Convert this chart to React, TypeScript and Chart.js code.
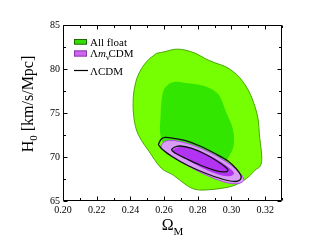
import React, { useEffect, useRef } from 'react';
import { Chart, registerables } from 'chart.js';

Chart.register(...registerables);

// ---- axis ----
const xMin = 0.2;
const xMax = 0.33;
const yMin = 65;
const yMax = 85;
const xStep = 0.02;
const yStep = 5;

// ---- legend ----
const legendNames = ['All float', 'Λm_νCDM', 'ΛCDM'];

// ---- All float, 2σ (outer, light green) ----
const allFloat2Om = [0.2555, 0.2605, 0.2664, 0.2723, 0.279, 0.2842, 0.2902, 0.2961, 0.301, 0.305, 0.31, 0.314, 0.3159, 0.3165, 0.3172, 0.318, 0.3172, 0.314, 0.311, 0.307, 0.3021, 0.2942, 0.2842, 0.2783, 0.2733, 0.2654, 0.2585, 0.2505, 0.2465, 0.2436, 0.242, 0.2416, 0.2422, 0.2446, 0.2496];
const allFloat2H = [81.78, 81.97, 82.24, 82.16, 81.75, 81.2, 80.7, 80.3, 79.7, 79.0, 77.6, 75.7, 74.2, 72.7, 71.5, 70.0, 69.0, 68.5, 67.9, 67.3, 66.8, 66.44, 66.25, 66.33, 66.8, 67.95, 68.7, 70.8, 71.9, 73.07, 74.6, 76.1, 77.6, 79.3, 80.83];

// ---- All float, 1σ (inner, green) ----
const allFloat1Om = [0.263, 0.2665, 0.272, 0.28, 0.2853, 0.29, 0.2932, 0.2971, 0.3, 0.3015, 0.3012, 0.2995, 0.2955, 0.288, 0.278, 0.268, 0.261, 0.2585, 0.2575, 0.2578, 0.2585, 0.26];
const allFloat1H = [78.35, 78.56, 78.45, 78.25, 77.99, 77.5, 76.85, 74.97, 73.7, 72.4, 71.2, 70.4, 69.3, 68.9, 69.3, 70.0, 71.0, 72.0, 73.07, 74.2, 76.48, 77.7];

// ---- ΛmνCDM, 2σ (light purple) ----
const mnu2Om = [0.2581, 0.2599, 0.2634, 0.2694, 0.2783, 0.2872, 0.2961, 0.3033, 0.3068, 0.3071, 0.3039, 0.2979, 0.2884, 0.2783, 0.2694, 0.2622, 0.2587];
const mnu2H = [71.25, 71.7, 71.88, 71.76, 71.25, 70.51, 69.55, 68.52, 67.73, 67.27, 66.99, 67.05, 67.67, 68.58, 69.55, 70.45, 70.91];

// ---- ΛmνCDM, 1σ (purple) ----
const mnu1Om = [0.2646, 0.267, 0.2712, 0.2783, 0.286, 0.2937, 0.2991, 0.3015, 0.2997, 0.2943, 0.286, 0.2771, 0.2694, 0.2658];
const mnu1H = [70.68, 71.02, 71.19, 70.91, 70.28, 69.43, 68.69, 68.18, 67.84, 67.9, 68.47, 69.32, 70.11, 70.45];

// ---- ΛCDM, 2σ (black line) ----
const lcdm2Om = [0.2566, 0.2581, 0.2605, 0.2664, 0.2723, 0.2813, 0.2902, 0.2979, 0.3027, 0.3056, 0.305, 0.3015, 0.2943, 0.2842, 0.2741, 0.2646, 0.2587];
const lcdm2H = [71.4, 71.99, 72.22, 72.1, 71.88, 71.25, 70.4, 69.55, 68.69, 67.9, 67.39, 67.22, 67.5, 68.18, 69.03, 70.06, 70.91];

// ---- ΛCDM, 1σ (black line) ----
const lcdm1Om = [0.2643, 0.2658, 0.2694, 0.2765, 0.2842, 0.2914, 0.2967, 0.2979, 0.2955, 0.2896, 0.2813, 0.2729, 0.267];
const lcdm1H = [70.8, 71.08, 71.25, 70.97, 70.34, 69.55, 68.81, 68.47, 68.3, 68.52, 69.09, 69.83, 70.4];

const SERIF = '"Liberation Serif", "Times New Roman", serif';

function closed(xs: number[], ys: number[]) {
  const pts = xs.map((x, i) => ({ x, y: ys[i] }));
  pts.push({ x: xs[0], y: ys[0] });
  return pts;
}

const decorPlugin = {
  id: 'decor',
  afterDraw(chart: any) {
    const { ctx, chartArea: a, scales } = chart;
    const xs = scales.x;
    const ys = scales.y;
    ctx.save();
    ctx.strokeStyle = '#000';
    ctx.lineWidth = 1;
    const L = Math.round(a.left) + 0.5;
    const R = Math.round(a.right) - 0.5;
    const T = Math.round(a.top) + 0.5;
    const B = Math.round(a.bottom) - 0.5;
    ctx.beginPath();
    ctx.rect(L, T, R - L, B - T);
    ctx.stroke();
    ctx.beginPath();
    for (let i = 0; i <= Math.round((xMax - xMin) / 0.01); i++) {
      const v = xMin + i * 0.01;
      const px = Math.round(xs.getPixelForValue(v)) + 0.5;
      const len = i % 2 === 0 ? 4 : 2.5;
      ctx.moveTo(px, B); ctx.lineTo(px, B - len);
      ctx.moveTo(px, T); ctx.lineTo(px, T + len);
    }
    for (let i = 0; i <= Math.round((yMax - yMin) / 2.5); i++) {
      const v = yMin + i * 2.5;
      const py = Math.round(ys.getPixelForValue(v)) + 0.5;
      const len = i % 2 === 0 ? 4 : 2.5;
      ctx.moveTo(L, py); ctx.lineTo(L + len, py);
      ctx.moveTo(R, py); ctx.lineTo(R - len, py);
    }
    ctx.stroke();

    // axis titles
    ctx.fillStyle = '#000';
    ctx.textBaseline = 'alphabetic';
    ctx.textAlign = 'left';
    const big = `16px ${SERIF}`;
    const sub = `11px ${SERIF}`;
    // x: Ω_M
    ctx.font = big;
    const wO = ctx.measureText('Ω').width;
    ctx.font = sub;
    const wM = ctx.measureText('M').width;
    const cx = (a.left + a.right) / 2;
    const x0 = cx - (wO + wM) / 2;
    ctx.font = big;
    ctx.fillText('Ω', x0, 230);
    ctx.font = sub;
    ctx.fillText('M', x0 + wO, 234.5);

    // y: H_0 [km/s/Mpc]
    ctx.save();
    ctx.translate(33, 104);
    ctx.rotate(-Math.PI / 2);
    ctx.font = big;
    const wH = ctx.measureText('H').width;
    const rest = ' [km/s/Mpc]';
    const wR = ctx.measureText(rest).width;
    ctx.font = sub;
    const w0 = ctx.measureText('0').width;
    const start = -(wH + w0 + wR) / 2;
    ctx.font = big;
    ctx.fillText('H', start, 0);
    ctx.font = sub;
    ctx.fillText('0', start + wH, 4);
    ctx.font = big;
    ctx.fillText(rest, start + wH + w0, 0);
    ctx.restore();

    // legend
    const lf = `11px ${SERIF}`;
    const lfi = `italic 11px ${SERIF}`;
    const lsub = `8px ${SERIF}`;
    const bx = 74;
    const bw = 13;
    const tx = 90;
    // item 1
    ctx.fillStyle = '#33DD00';
    ctx.fillRect(bx, 39, bw, 5.5);
    ctx.strokeStyle = '#1a4d00';
    ctx.lineWidth = 0.8;
    ctx.strokeRect(bx + 0.4, 39.4, bw - 0.8, 4.8);
    ctx.fillStyle = '#000';
    ctx.font = lf;
    ctx.fillText(legendNames[0], tx, 45.5);
    // item 2
    ctx.fillStyle = '#CC66EE';
    ctx.fillRect(bx, 50.5, bw, 6);
    ctx.strokeStyle = '#7a2a99';
    ctx.strokeRect(bx + 0.4, 50.9, bw - 0.8, 5.2);
    ctx.fillStyle = '#000';
    const parts = legendNames[1].split('_');
    let px = tx;
    ctx.font = lf;
    ctx.fillText(parts[0].slice(0, 1), px, 57);
    px += ctx.measureText(parts[0].slice(0, 1)).width;
    ctx.font = lfi;
    ctx.fillText(parts[0].slice(1), px, 57);
    px += ctx.measureText(parts[0].slice(1)).width;
    ctx.font = lsub;
    ctx.fillText(parts[1].slice(0, 1), px, 60);
    px += ctx.measureText(parts[1].slice(0, 1)).width - 1;
    ctx.font = lf;
    ctx.fillText(parts[1].slice(1), px, 57);
    // item 3
    ctx.strokeStyle = '#000';
    ctx.lineWidth = 1.2;
    ctx.beginPath();
    ctx.moveTo(bx, 70.5);
    ctx.lineTo(bx + bw + 1, 70.5);
    ctx.stroke();
    ctx.font = lf;
    ctx.fillText(legendNames[2], tx, 74.5);
    ctx.restore();
  },
};

export default function App() {
  const ref = useRef<HTMLCanvasElement>(null);
  useEffect(() => {
    document.body.style.margin = '0';
    if (!ref.current) return;
    const common = { showLine: true, pointRadius: 0, pointHoverRadius: 0, tension: 0.35 };
    const chart = new Chart(ref.current, {
      type: 'scatter',
      data: {
        datasets: [
          { ...common, label: 'All float 2σ', data: closed(allFloat2Om, allFloat2H), backgroundColor: '#76FF03', borderColor: '#46A800', borderWidth: 1, fill: 'shape', order: 6 },
          { ...common, label: 'All float 1σ', data: closed(allFloat1Om, allFloat1H), backgroundColor: '#33E600', borderColor: 'rgba(0,0,0,0)', borderWidth: 0, fill: 'shape', order: 5 },
          { ...common, label: 'ΛmνCDM 2σ', data: closed(mnu2Om, mnu2H), backgroundColor: '#DA9DF7', borderColor: '#B44CEA', borderWidth: 1, fill: 'shape', order: 4 },
          { ...common, label: 'ΛmνCDM 1σ', data: closed(mnu1Om, mnu1H), backgroundColor: '#B233F2', borderColor: 'rgba(0,0,0,0)', borderWidth: 0, fill: 'shape', order: 3 },
          { ...common, label: 'ΛCDM 2σ', data: closed(lcdm2Om, lcdm2H), borderColor: '#111', borderWidth: 1.3, fill: false, order: 2 },
          { ...common, label: 'ΛCDM 1σ', data: closed(lcdm1Om, lcdm1H), borderColor: '#111', borderWidth: 1.3, fill: false, order: 1 },
        ],
      },
      options: {
        animation: false,
        responsive: true,
        maintainAspectRatio: false,
        events: [],
        layout: { padding: { left: 0, right: 38, top: 25, bottom: 0 } },
        plugins: { legend: { display: false }, tooltip: { enabled: false } },
        scales: {
          x: {
            type: 'linear',
            min: xMin,
            max: xMax,
            grid: { display: false, drawTicks: false },
            border: { display: false },
            ticks: {
              stepSize: xStep,
              includeBounds: false,
              padding: 3,
              color: '#000',
              font: { family: SERIF, size: 10 },
              maxRotation: 0,
              autoSkip: false,
              callback: (v: any) => Number(v).toFixed(2),
            },
            afterFit: (s: any) => { s.height = 44; },
          },
          y: {
            type: 'linear',
            min: yMin,
            max: yMax,
            grid: { display: false, drawTicks: false },
            border: { display: false },
            ticks: {
              stepSize: yStep,
              padding: 3,
              color: '#000',
              font: { family: SERIF, size: 10 },
              callback: (v: any) => String(v),
            },
            afterFit: (s: any) => { s.width = 63; },
          },
        },
      },
      plugins: [decorPlugin],
    });
    return () => chart.destroy();
  }, []);
  return (
    <div style={{ position: 'absolute', left: 0, top: 0, width: 320, height: 245 }}>
      <canvas ref={ref} />
    </div>
  );
}
